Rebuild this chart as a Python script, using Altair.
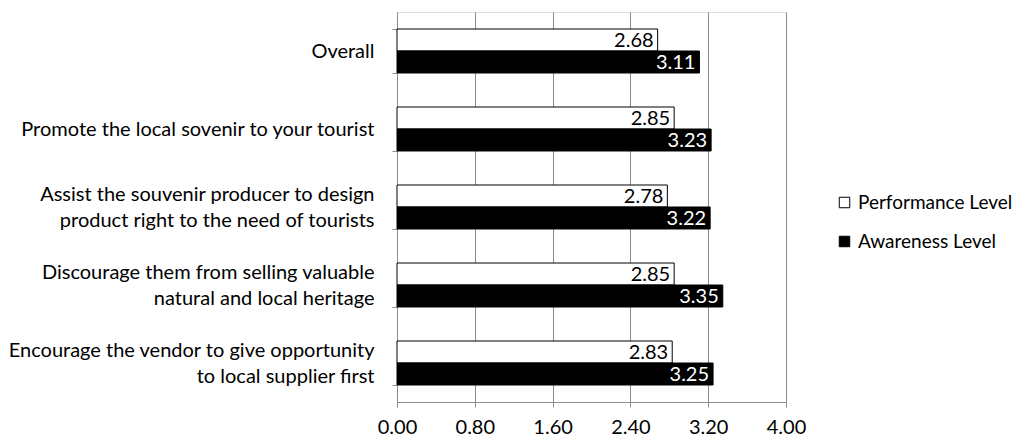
import altair as alt
import pandas as pd

categories = [
    "Overall",
    "Promote the local sovenir to your tourist",
    "Assist the souvenir producer to design|product right to the need of tourists",
    "Discourage them from selling valuable|natural and local heritage",
    "Encourage the vendor to give opportunity|to local supplier first",
]
series = ["Performance Level", "Awareness Level"]
performance = [2.68, 2.85, 2.78, 2.85, 2.83]
awareness = [3.11, 3.23, 3.22, 3.35, 3.25]
x_ticks = [0.0, 0.8, 1.6, 2.4, 3.2, 4.0]

rows = []
for c, p, a in zip(categories, performance, awareness):
    rows.append({"cat": c, "series": series[0], "value": p})
    rows.append({"cat": c, "series": series[1], "value": a})
df = pd.DataFrame(rows)

FONT = "Lato"
FS = 20
GRAY = "#8c8c8c"

y_enc = alt.Y(
    "cat:N",
    sort=categories,
    title=None,
    scale=alt.Scale(paddingInner=0.436, paddingOuter=0.218),
    axis=alt.Axis(
        labelExpr="split(datum.label, '|')",
        labelFont=FONT,
        labelFontSize=FS,
        labelColor="black",
        labelLineHeight=26,
        labelPadding=18,
        labelAlign="right",
        labelBaseline="middle",
        labelOffset={"condition": {"test": "indexof(datum.label, '|') >= 0", "value": -13}, "value": 0},
        tickBand="extent",
        tickColor=GRAY,
        tickSize=5,
        domainColor=GRAY,
        grid=False,
        labelLimit=600,
    ),
)
x_enc = alt.X(
    "value:Q",
    title=None,
    scale=alt.Scale(domain=[0, 4], nice=False),
    axis=alt.Axis(
        values=x_ticks,
        format=".2f",
        labelFont=FONT,
        labelFontSize=FS,
        labelColor="black",
        labelPadding=10,
        tickColor=GRAY,
        tickSize=5,
        domainColor=GRAY,
        grid=True,
        gridColor=GRAY,
        labelFlush=False,
    ),
)
yoff = alt.YOffset("series:N", sort=series)

bars = alt.Chart(df).mark_bar(stroke="black", strokeWidth=1).encode(
    y=y_enc,
    x=x_enc,
    yOffset=yoff,
    color=alt.Color(
        "series:N",
        sort=series,
        scale=alt.Scale(domain=series, range=["white", "black"]),
        legend=alt.Legend(
            title=None,
            orient="none",
            legendX=438,
            legendY=181,
            symbolType="square",
            symbolSize=110,
            symbolStrokeColor="black",
            symbolStrokeWidth=1,
            symbolOffset=0,
            labelOffset=4,
            labelFont=FONT,
            labelFontSize=19,
            labelColor="black",
            rowPadding=19,
            padding=0,
            labelLimit=300,
        ),
    ),
)

def value_text(name, color):
    return alt.Chart(df).transform_filter(
        alt.datum.series == name
    ).mark_text(
        align="right", baseline="middle", dx=-4, dy=1, font=FONT, fontSize=FS, color=color
    ).encode(
        y=alt.Y("cat:N", sort=categories),
        x=alt.X("value:Q"),
        yOffset=yoff,
        text=alt.Text("value:Q", format=".2f"),
    )

chart = alt.layer(
    bars, value_text(series[0], "black"), value_text(series[1], "white")
).properties(
    width=389,
    height=390,
    autosize=alt.AutoSizeParams(type="none"),
    padding={"left": 397, "top": 12, "right": 236, "bottom": 38},
).configure_view(stroke="transparent").configure(background="white")

chart.save("out.html", embed_options={"renderer": "svg", "actions": False})
